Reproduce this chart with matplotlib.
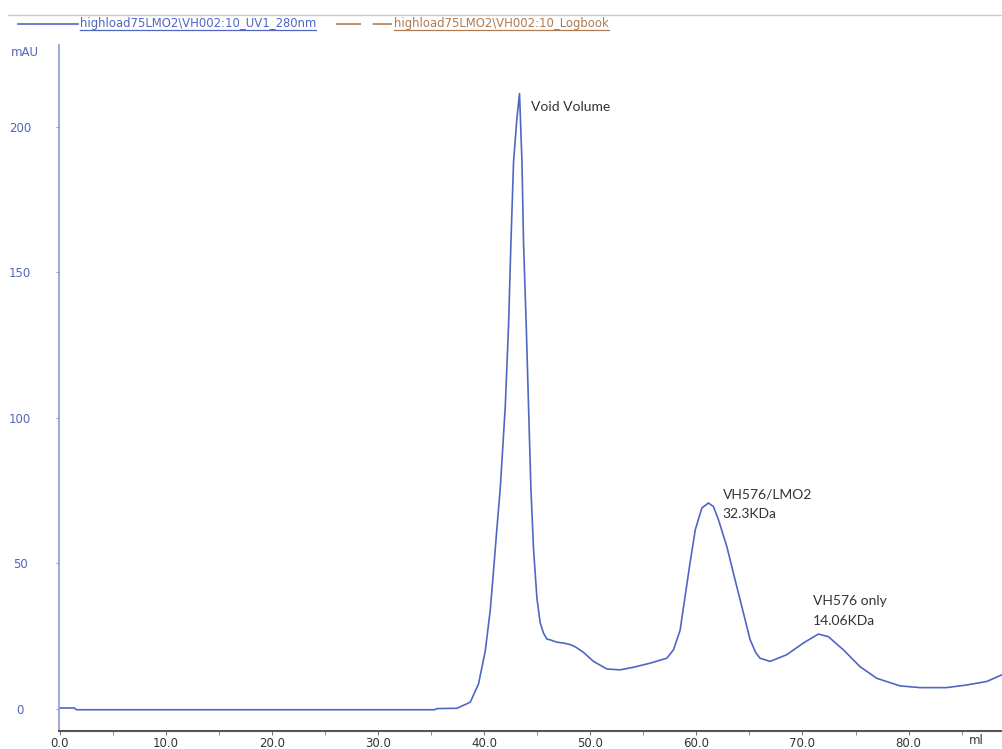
import matplotlib.pyplot as plt
from matplotlib.lines import Line2D

# UV trace (ml, mAU)
volume = [0.0, 1.4, 1.6, 10.0, 20.0, 30.0, 35.3, 35.6, 37.45, 38.7, 39.48, 40.11,
          40.58, 40.9, 41.21, 41.53, 42.0, 42.31, 42.53, 42.78, 43.1, 43.34, 43.57,
          43.72, 43.97, 44.19, 44.41, 44.66, 44.98, 45.29, 45.6, 45.92, 46.23,
          46.86, 47.49, 48.1, 48.6, 49.37, 50.31, 51.57, 52.82, 54.08,
          55.65, 57.22, 57.85, 58.47, 58.94, 59.4, 59.9, 60.52, 61.14, 61.61,
          62.08, 62.87, 63.65, 64.44, 65.07, 65.6, 66.0, 66.95, 68.52, 70.08, 71.5,
          72.44, 73.85, 75.42, 77.0, 79.19, 81.07, 83.59, 85.47, 87.35, 88.8]
uv_280 = [0.3, 0.3, -0.3, -0.3, -0.3, -0.3, -0.3, 0.1, 0.2, 2.3, 8.6, 19.8,
          33.8, 47.8, 62.0, 76.0, 104.0, 132.0, 160.0, 188.0, 203.0, 211.3, 188.0,
          160.0, 132.0, 104.0, 76.0, 55.0, 38.0, 29.5, 26.0, 24.0, 23.7,
          22.9, 22.6, 22.1, 21.3, 19.4, 16.3, 13.7, 13.4, 14.3,
          15.7, 17.4, 20.3, 27.0, 38.6, 50.0, 61.5, 69.0, 70.7, 69.5,
          65.0, 55.8, 44.3, 32.9, 23.7, 19.3, 17.4, 16.3, 18.6, 22.6, 25.7,
          24.8, 20.3, 14.5, 10.5, 7.9, 7.3, 7.3, 8.2, 9.4, 11.7]

x_ticks = [0, 10, 20, 30, 40, 50, 60, 70, 80]
y_ticks = [0, 50, 100, 150, 200]

peak_labels = [("Void Volume", 44.4, 208.8),
               ("VH576/LMO2\n32.3KDa", 62.5, 75.6),
               ("VH576 only\n14.06KDa", 71.0, 39.0)]

legend_names = ["highload75LMO2\\VH002:10_UV1_280nm",
                "highload75LMO2\\VH002:10_Logbook"]

blue = "#4f67c2"
brown = "#b07a52"

fig = plt.figure(figsize=(10.02, 7.49), dpi=100)
ax = fig.add_axes([59 / 1002, 18 / 749, 1 - 59 / 1002, (731 - 45) / 749])

ax.plot(volume, uv_280, color=blue, lw=1.2)

ax.set_xlim(-0.05, 88.8)
ax.set_ylim(-7.6, 228)

for s in ["top", "right"]:
    ax.spines[s].set_visible(False)
ax.spines["left"].set_color("#8a9ad6")
ax.spines["left"].set_linewidth(1.2)
ax.spines["bottom"].set_color("#555555")
ax.spines["bottom"].set_linewidth(1.5)

ax.set_xticks(x_ticks)
ax.set_xticklabels(["{:.1f}".format(v) for v in x_ticks])
ax.set_xticks([v + 5 for v in x_ticks], minor=True)
ax.tick_params(axis="x", which="both", direction="out", length=3, color="#777777",
               labelsize=8.5, labelcolor="#333333", pad=1)

ax.set_yticks(y_ticks)
ax.set_yticklabels([str(v) for v in y_ticks])
ax.tick_params(axis="y", direction="out", length=2, color="#8a9ad6",
               labelsize=8.5, labelcolor="#5266b8", pad=26)
for lab in ax.get_yticklabels():
    lab.set_ha("center")

ax.text(86.4, -8.6, "ml", fontsize=8.5, color="#333333", ha="center", va="top",
        clip_on=False)
fig.text(25 / 1002, 1 - 52 / 749, "mAU", fontsize=8.5, color="#5266b8",
         ha="center", va="center")

for txt, xv, yv in peak_labels:
    ax.text(xv, yv, txt, fontsize=10, color="#333333", family="Lato",
            ha="left", va="top", linespacing=1.75)

# header strip with the legend
fig.add_artist(Line2D([8 / 1002, 1], [1 - 15 / 749] * 2, color="#cccccc", lw=1))
fig.add_artist(Line2D([18 / 1002, 78 / 1002], [1 - 24 / 749] * 2, color=blue, lw=1.2))
fig.add_artist(Line2D([336 / 1002, 392 / 1002], [1 - 24 / 749] * 2, color=brown, lw=1.2,
                      dashes=(15, 7)))
t1 = fig.text(80 / 1002, 1 - 24 / 749, legend_names[0], fontsize=8.4, color=blue,
              va="center", ha="left")
t2 = fig.text(394 / 1002, 1 - 24 / 749, legend_names[1], fontsize=8.4, color=brown,
              va="center", ha="left")
fig.canvas.draw()
rend = fig.canvas.get_renderer()
for t, c in [(t1, blue), (t2, brown)]:
    bb = t.get_window_extent(rend).transformed(fig.transFigure.inverted())
    fig.add_artist(Line2D([bb.x0, bb.x1], [bb.y0 + 0.001] * 2, color=c, lw=0.9))

fig.savefig("out.png", dpi=100)
